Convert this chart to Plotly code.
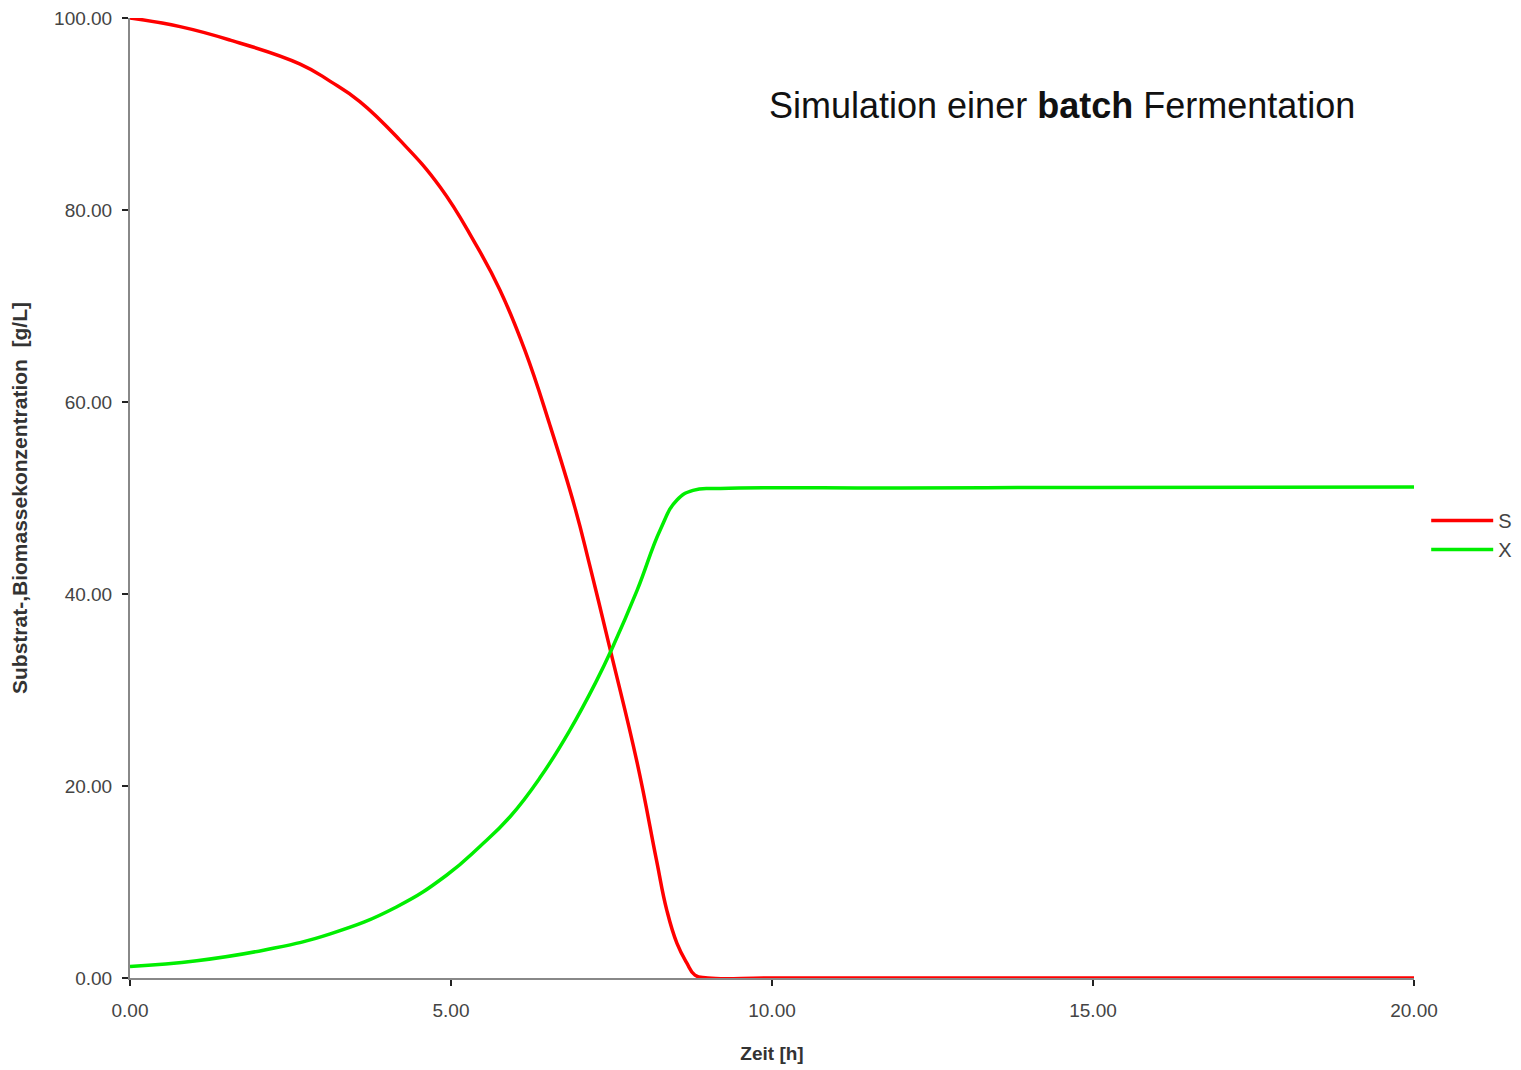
import plotly.graph_objects as go

# Substrate S [g/L]
t_s = [0, 0.78, 1.56, 2.65, 3.12, 3.58, 4.2, 4.83, 5.37, 5.76, 6.15, 6.54, 6.93, 7.16, 7.48, 7.9, 8.2, 8.36, 8.52, 8.67, 8.8, 9.0, 10, 12, 15, 18, 20]
S = [100, 99.1, 97.7, 95.2, 93.4, 91.3, 87.3, 82.4, 76.6, 71.7, 65.4, 57.6, 49.0, 43.0, 34.2, 22.4, 12.3, 7.1, 3.6, 1.6, 0.3, 0.0, 0.0, 0.0, 0.0, 0.0, 0.0]

# Biomass X [g/L]
t_x = [0, 1.04, 2.08, 3.12, 4.15, 4.93, 5.45, 5.92, 6.39, 6.85, 7.27, 7.5, 7.9, 8.26, 8.52, 8.77, 9.2, 12, 15, 20]
X = [1.2, 1.8, 2.9, 4.6, 7.4, 10.7, 13.7, 16.8, 20.9, 25.8, 31.0, 34.2, 40.4, 46.7, 49.8, 50.8, 51.0, 51.05, 51.1, 51.15]

x_ticks = [0, 5, 10, 15, 20]
y_ticks = [0, 20, 40, 60, 80, 100]

fig = go.Figure()
fig.add_trace(go.Scatter(x=t_s, y=S, mode="lines", name="S",
                         line=dict(color="#ff0000", width=3.5, shape="spline", smoothing=1.3)))
fig.add_trace(go.Scatter(x=t_x, y=X, mode="lines", name="X",
                         line=dict(color="#00ee00", width=3.5, shape="spline", smoothing=1.3)))

tickfont = dict(family="Liberation Sans", size=19, color="#444444")
fig.update_layout(
    width=1521, height=1070,
    margin=dict(l=122, r=115, t=10, b=100, autoexpand=False),
    paper_bgcolor="white", plot_bgcolor="white",
    showlegend=True,
    legend=dict(x=1.0095, y=0.497, xanchor="left", yanchor="top",
                font=dict(family="Liberation Sans", size=20, color="#444444"),
                itemwidth=62, tracegroupgap=0, bgcolor="rgba(0,0,0,0)"),
    xaxis=dict(range=[0, 20], tickvals=x_ticks,
               ticktext=[f"{v:.2f}" for v in x_ticks],
               showgrid=False, zeroline=False, showline=True,
               linecolor="#888888", linewidth=2,
               ticks="outside", ticklen=6, tickcolor="#222222", tickwidth=2,
               tickfont=tickfont, ticklabelstandoff=8, ticklabeloverflow="allow",
               title=dict(text="<b>Zeit [h]</b>",
                          font=dict(family="Liberation Sans", size=19, color="#333333"),
                          standoff=27)),
    yaxis=dict(range=[0, 100], tickvals=y_ticks,
               ticktext=[f"{v:.2f}" for v in y_ticks],
               showgrid=False, zeroline=False, showline=True,
               linecolor="#888888", linewidth=2,
               ticks="outside", ticklen=6, tickcolor="#222222", tickwidth=2,
               tickfont=tickfont, ticklabelstandoff=6, ticklabeloverflow="allow",
               title=dict(text="<b>Substrat-,Biomassekonzentration  [g/L]</b>",
                          font=dict(family="Liberation Sans", size=21, color="#333333"),
                          standoff=30)),
    annotations=[dict(text="Simulation einer <b>batch</b> Fermentation",
                      xref="paper", yref="paper", x=0.726, y=0.909,
                      xanchor="center", yanchor="middle", showarrow=False,
                      font=dict(family="Liberation Sans", size=36, color="#111111"))],
)

fig.write_html("out.html")
